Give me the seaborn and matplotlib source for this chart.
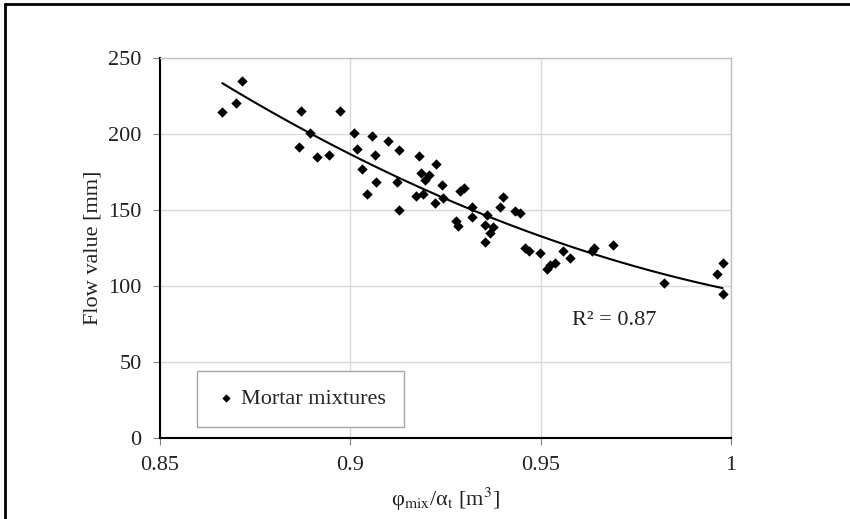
import numpy as np
import pandas as pd
import matplotlib
matplotlib.use("Agg")
import matplotlib.pyplot as plt
import seaborn as sns
from matplotlib.lines import Line2D

# values
phi_ratio = [
    0.8664, 0.8701, 0.8717, 0.8871, 0.8974, 0.8894, 0.8866, 0.8912, 0.8945, 0.9010,
    0.9017, 0.9058, 0.9064, 0.9098, 0.9030, 0.9069, 0.9043, 0.9124, 0.9127, 0.9129,
    0.9181, 0.9225, 0.9187, 0.9196, 0.9208, 0.9173, 0.9191, 0.9240, 0.9244, 0.9224,
    0.9288, 0.9299, 0.9277, 0.9283, 0.9319, 0.9319, 0.9358, 0.9354, 0.9376, 0.9367,
    0.9354, 0.9401, 0.9394, 0.9432, 0.9446, 0.9460, 0.9469, 0.9498, 0.9516, 0.9524,
    0.9538, 0.9558, 0.9576, 0.9635, 0.9641, 0.9691, 0.9825, 0.9962, 0.9978, 0.9978,
]
flow_value = [
    214.3, 220.2, 235.1, 215.1, 215.1, 200.5, 191.2, 185.1, 186.2, 200.5,
    190.0, 198.5, 186.2, 195.3, 176.8, 168.3, 160.5, 168.4, 189.3, 150.3,
    185.5, 180.5, 174.1, 170.1, 173.0, 159.2, 160.4, 166.4, 158.2, 154.8,
    162.8, 164.3, 142.6, 139.5, 152.2, 145.6, 147.0, 140.3, 139.0, 134.7,
    129.1, 158.6, 152.2, 149.3, 147.8, 125.0, 123.2, 121.5, 111.3, 114.1,
    115.3, 123.2, 118.8, 123.4, 125.0, 127.0, 102.3, 107.9, 114.9, 94.9,
]
x_ticks = [0.85, 0.9, 0.95, 1.0]
x_tick_labels = ["0.85", "0.9", "0.95", "1"]
y_ticks = [0, 50, 100, 150, 200, 250]
r2_label = "R² = 0.87"

df = pd.DataFrame({"phi": phi_ratio, "flow": flow_value})

sns.set_style("white")
plt.rcParams["font.family"] = ["Liberation Serif", "DejaVu Serif"]
plt.rcParams["mathtext.fontset"] = "stix"

fig = plt.figure(figsize=(8.5, 5.19), dpi=100)
ax = fig.add_axes([0.188, 0.156, 0.672, 0.732])

# quadratic trend line like the Excel one
sns.regplot(data=df, x="phi", y="flow", order=2, ci=None, scatter=False,
            truncate=True, line_kws=dict(color="black", lw=1.5), ax=ax)
sns.scatterplot(data=df, x="phi", y="flow", marker="D", s=28, color="black",
                linewidth=0, label="Mortar mixtures", ax=ax, zorder=3)

ax.set_xlim(0.85, 1.0)
ax.set_ylim(0, 250)
ax.set_xticks(x_ticks)
ax.set_xticklabels(x_tick_labels)
ax.set_yticks(y_ticks)
ax.grid(True, color="#d9d9d9", lw=1)
ax.set_axisbelow(True)

for side in ["left", "bottom"]:
    ax.spines[side].set_color("black")
    ax.spines[side].set_linewidth(1.5)
for side in ["top", "right"]:
    ax.spines[side].set_color("#bfbfbf")
    ax.spines[side].set_linewidth(1)

ax.tick_params(bottom=True, left=True, direction="out", length=5,
               color="#808080", labelsize=16, pad=8, labelcolor="#222222")

ax.set_xlabel(r"φ$_{\mathrm{mix}}$/α$_{\mathrm{t}}$ [m$^{3}$]", fontsize=16, color="#222222")
ax.set_ylabel("Flow value [mm]", fontsize=16, color="#222222")
ax.xaxis.set_label_coords(0.5, -0.125)
ax.yaxis.set_label_coords(-0.1, 0.5)

ax.text(0.7215, 0.31, r2_label, transform=ax.transAxes, fontsize=16,
        ha="left", va="center", color="#222222")

leg = ax.legend(loc="lower left", bbox_to_anchor=(0.065, 0.029), borderaxespad=0,
                fontsize=16, frameon=True, fancybox=False, framealpha=1,
                borderpad=0.8, handlelength=1.0, handletextpad=0.2, markerscale=0.8)
leg.get_frame().set_edgecolor("#a6a6a6")
leg.get_frame().set_linewidth(1)

# page border lines (top and left)
fig.add_artist(Line2D([5 / 850, 1], [1 - 4 / 519, 1 - 4 / 519], color="black",
                      lw=2, transform=fig.transFigure))
fig.add_artist(Line2D([5 / 850, 5 / 850], [0, 1 - 4 / 519], color="black",
                      lw=2, transform=fig.transFigure))

fig.savefig("out.png", dpi=100)
